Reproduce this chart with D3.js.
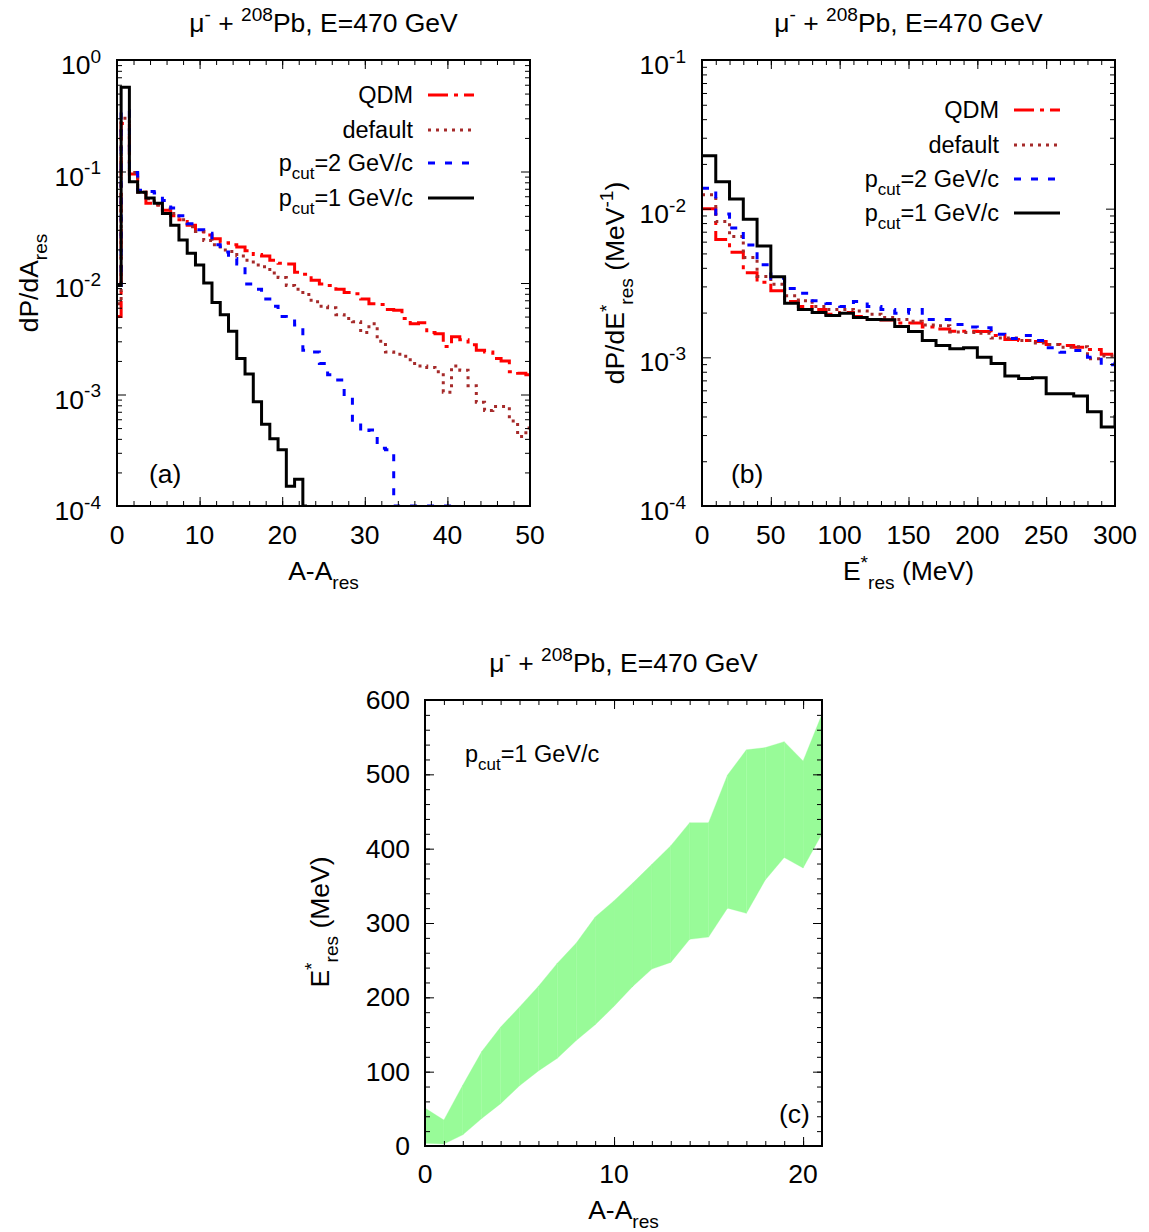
<!DOCTYPE html>
<html><head><meta charset="utf-8">
<script src="https://cdn.jsdelivr.net/npm/d3@7"></script>
<style>
body{margin:0;background:#fff}
text{font-family:"Liberation Sans",Arial,sans-serif;fill:#000}
</style>
</head><body>
<svg id="chart" width="1149" height="1232"></svg>
<script>
// ---------------- DATA ----------------
// Panel (a): dP/dA_res vs A-A_res (bins centred at integers)
const aQDM = [0.005,0.27,0.095,0.065,0.052,0.05,0.045,0.04,0.037,0.033,0.029,0.027,0.025,0.023,0.022,0.021,0.0195,0.018,0.0175,0.016,0.015,0.0148,0.0125,0.012,0.0106,0.0098,0.0095,0.0088,0.0082,0.008,0.0072,0.0065,0.0064,0.0058,0.0057,0.0048,0.0043,0.0044,0.0036,0.0035,0.0027,0.0033,0.0031,0.0028,0.0025,0.0024,0.0021,0.002,0.0016,0.00155,0.0015];
const aDefault = [0.0065,0.3,0.098,0.065,0.057,0.05,0.046,0.042,0.037,0.032,0.029,0.024,0.022,0.0198,0.0192,0.0175,0.016,0.0145,0.014,0.0123,0.0112,0.0095,0.0088,0.0079,0.0068,0.0062,0.006,0.0052,0.0048,0.0045,0.0036,0.0043,0.003,0.0024,0.0023,0.0022,0.0019,0.0018,0.00175,0.0016,0.00105,0.0018,0.00165,0.0012,0.00085,0.00072,0.00078,0.00078,0.00058,0.00042,0.0005];
const aPcut2 = [0.0095,0.35,0.098,0.068,0.066,0.064,0.055,0.047,0.04,0.034,0.03,0.028,0.022,0.019,0.0166,0.0148,0.0098,0.0088,0.0072,0.0062,0.005,0.0048,0.0042,0.0025,0.0024,0.0019,0.0015,0.00135,0.00095,0.00055,0.00046,0.00048,0.00033,0.00032,0.00005,0.00005,0.00005,0.00005,0.00005,0.00005,0.00005,0.00005];
const aPcut1 = [0.0095,0.57,0.081,0.065,0.058,0.052,0.042,0.033,0.0243,0.0185,0.0145,0.01,0.0067,0.0052,0.0037,0.0021,0.00153,0.00086,0.00054,0.0004,0.00032,0.00015,0.000174,0.00005];

// Panel (b): dP/dE*_res vs E*_res, 10 MeV bins (left edges 0..300)
const bEdges = d3.range(0, 301, 10);
const bQDM = [0.01,0.0062,0.0051,0.0037,0.0032,0.0028,0.00237,0.0022,0.0021,0.00195,0.002,0.00188,0.0018,0.00178,0.0017,0.0017,0.0016,0.00155,0.0015,0.0015,0.00149,0.0014,0.00132,0.0013,0.00128,0.00122,0.0012,0.00117,0.00113,0.00105,0.001];
const bDefault = [0.0124,0.0082,0.0065,0.0047,0.0035,0.0031,0.0026,0.0024,0.0022,0.0021,0.0021,0.00205,0.00195,0.00185,0.0018,0.00175,0.00165,0.00163,0.00148,0.00147,0.00145,0.00135,0.00135,0.0013,0.00125,0.00122,0.00117,0.00118,0.00098,0.00102,0.00103];
const bPcut2 = [0.0137,0.0092,0.0074,0.0057,0.0042,0.0034,0.0029,0.0027,0.0024,0.0023,0.0022,0.00237,0.0022,0.0021,0.00198,0.0021,0.0018,0.0018,0.00166,0.0016,0.00158,0.00143,0.00134,0.0014,0.0013,0.00116,0.00108,0.00111,0.001,0.00089,0.001];
const bPcut1 = [0.0227,0.0152,0.0116,0.0085,0.0056,0.00349,0.00231,0.0021,0.002,0.00191,0.00198,0.00185,0.0018,0.00179,0.00161,0.00149,0.0013,0.0012,0.00114,0.00116,0.001,0.00091,0.00075,0.00072,0.00073,0.00057,0.00057,0.00055,0.00043,0.00034,0.00041];

// Panel (c): E*_res band vs A-A_res (p_cut = 1 GeV/c)
const cX = d3.range(0, 22);
const cLow  = [3.6,2.7,15,37,57,81,101,118,142,163,188,215,238,247,278,281,320,313,358,388,374,420];
const cHigh = [51,35,82,127,160,187,215,246,273,308,330,354,379,404,435,435,499,533,536,544,518,581];

const seriesNames = ["QDM","default","pcut2","pcut1"];
const legendLabels = [["QDM"],["default"],["p",["cut","sub"],"=2 GeV/c"],["p",["cut","sub"],"=1 GeV/c"]];
const titleParts = ["\u03bc",["-","sup"]," + ",["208","sup"],"Pb, E=470 GeV"];

// ---------------- STYLES ----------------
const styles = {
  QDM:     {color:"#ff0000", dash:"20,6,4,6"},
  default: {color:"#a52a2a", dash:"3,5"},
  pcut2:   {color:"#0000ff", dash:"7,10"},
  pcut1:   {color:"#000000", dash:null}
};
const FS = 26.5;   // ticks, titles, axis labels
const FL = 23.5;   // legend texts
const svg = d3.select("#chart");

function rich(t, parts, fs) {
  let cur = 0;
  parts.forEach(p => {
    const [txt, type] = typeof p === "string" ? [p, null] : p;
    const target = type === "sup" ? -0.42*fs : type === "sub" ? 0.33*fs : 0;
    t.append("tspan").attr("dy", target - cur).attr("font-size", type ? fs*0.72 : fs).text(txt);
    cur = target;
  });
  return t;
}

function drawFrame(g, x, y, w, h, xMaj, xMin, yMaj, yMin) {
  const mk = (axis, tr, vals, size) => g.append("g").attr("transform", tr)
      .call(axis.tickValues(vals).tickSize(size).tickFormat(""))
      .call(s => s.select(".domain").remove())
      .call(s => s.selectAll("line").attr("stroke","#000").attr("stroke-width",1));
  mk(d3.axisBottom(x), `translate(0,${h})`, xMaj, -9);
  mk(d3.axisBottom(x), `translate(0,${h})`, xMin, -5);
  mk(d3.axisTop(x), `translate(0,0)`, xMaj, -9);
  mk(d3.axisTop(x), `translate(0,0)`, xMin, -5);
  mk(d3.axisLeft(y), `translate(0,0)`, yMaj, -9);
  mk(d3.axisLeft(y), `translate(0,0)`, yMin, -5);
  mk(d3.axisRight(y), `translate(${w},0)`, yMaj, -9);
  mk(d3.axisRight(y), `translate(${w},0)`, yMin, -5);
  g.append("rect").attr("width", w).attr("height", h).attr("fill","none")
    .attr("stroke","#000").attr("stroke-width",2);
}

function logMinors(lo, hi) {
  const out = [];
  for (let e = lo; e < hi; e++) for (let m = 2; m <= 9; m++) out.push(m * Math.pow(10, e));
  return out;
}

function panelLog(P, xDomain, xMaj, xMin, yExpLo, yExpHi, xs, seriesData, curve, legendPos, labelTxt, xLabel, yLabel, yLabelPos) {
  const g = svg.append("g").attr("transform", `translate(${P.l},${P.t})`);
  const x = d3.scaleLinear().domain(xDomain).range([0, P.w]);
  const y = d3.scaleLog().domain([Math.pow(10,yExpLo), Math.pow(10,yExpHi)]).range([P.h, 0]).clamp(true);
  const clipId = "clip" + P.l;
  g.append("clipPath").attr("id", clipId).append("rect").attr("width", P.w).attr("height", P.h);
  const lg = g.append("g").attr("clip-path", `url(#${clipId})`);
  seriesNames.forEach(name => {
    const vals = seriesData[name];
    const pts = vals.map((v, i) => [xs[i], v]);
    const line = d3.line().x(d => x(d[0])).y(d => y(d[1])).curve(curve);
    lg.append("path").attr("d", line(pts)).attr("fill","none")
      .attr("stroke", styles[name].color).attr("stroke-width", 3)
      .attr("stroke-dasharray", styles[name].dash);
  });
  const yMaj = d3.range(yExpLo, yExpHi + 1).map(e => Math.pow(10, e));
  drawFrame(g, x, y, P.w, P.h, xMaj, xMin, yMaj, logMinors(yExpLo, yExpHi));
  xMaj.forEach(v => g.append("text").attr("x", x(v)).attr("y", P.h + 38)
    .attr("text-anchor","middle").attr("font-size", FS).text(v));
  d3.range(yExpLo, yExpHi + 1).forEach(e => {
    const t = g.append("text").attr("x", -16).attr("y", y(Math.pow(10,e)) + 14)
      .attr("text-anchor","end").attr("font-size", FS);
    rich(t, ["10", [String(e), "sup"]], FS);
  });
  legendPos.rows.forEach((ry, i) => {
    const name = seriesNames[i];
    const t = g.append("text").attr("x", legendPos.tx - P.l).attr("y", ry - P.t + 8)
      .attr("text-anchor","end").attr("font-size", FL);
    rich(t, legendLabels[i], FL);
    g.append("line").attr("x1", legendPos.lx0 - P.l).attr("x2", legendPos.lx1 - P.l)
      .attr("y1", ry - P.t).attr("y2", ry - P.t)
      .attr("stroke", styles[name].color).attr("stroke-width", 3)
      .attr("stroke-dasharray", styles[name].dash);
  });
  g.append("text").attr("x", labelTxt[0] - P.l).attr("y", labelTxt[1] - P.t)
    .attr("font-size", FS).text(labelTxt[2]);
  rich(svg.append("text").attr("x", P.l + P.w/2).attr("y", 580).attr("text-anchor","middle").attr("font-size", FS), xLabel, FS);
  rich(svg.append("text").attr("transform", `translate(${yLabelPos[0]},${yLabelPos[1]}) rotate(-90)`)
    .attr("text-anchor","middle").attr("font-size", FS), yLabel, FS);
  rich(svg.append("text").attr("x", P.l + P.w/2).attr("y", 32).attr("text-anchor","middle").attr("font-size", FS), titleParts, FS);
}

// ---------- Panel (a) ----------
const A = {l:117, t:60, w:413, h:446};
panelLog(A, [0,50], d3.range(0,51,10), d3.range(0,51,2), -4, 0, d3.range(0,51),
  {QDM:aQDM, default:aDefault, pcut2:aPcut2, pcut1:aPcut1}, d3.curveStep,
  {rows:[95,130,163,198], tx:413, lx0:428, lx1:474},
  [149, 483, "(a)"], ["A-A",["res","sub"]], ["dP/dA",["res","sub"]], [38, 283]);

// ---------- Panel (b) ----------
const B = {l:702, t:60, w:413, h:446};
panelLog(B, [0,300], d3.range(0,301,50), d3.range(0,301,10), -4, -1, bEdges,
  {QDM:bQDM, default:bDefault, pcut2:bPcut2, pcut1:bPcut1}, d3.curveStepAfter,
  {rows:[110,145,179,213], tx:999, lx0:1014, lx1:1060},
  [731, 483, "(b)"], ["E",["*","sup"],["res","sub"]," (MeV)"],
  ["dP/dE",["*","sup"],["res","sub"]," (MeV",["-1","sup"],")"], [624, 283]);

// ---------- Panel (c) ----------
const C = {l:425, t:700, w:397, h:446};
{
  const g = svg.append("g").attr("transform", `translate(${C.l},${C.t})`);
  const x = d3.scaleLinear().domain([0,21]).range([0, C.w]);
  const y = d3.scaleLinear().domain([0,600]).range([C.h, 0]);
  const band = cX.map((v, i) => ({x:v, lo:cLow[i], hi:cHigh[i]}));
  const area = d3.area().x(d => x(d.x)).y0(d => y(d.lo)).y1(d => y(d.hi));
  for (let i = 0; i < band.length - 1; i++) {
    g.append("path").attr("d", area(band.slice(i, i + 2))).attr("fill", "#98fb98")
      .attr("stroke", "#98fb98").attr("stroke-width", 0.3);
  }
  drawFrame(g, x, y, C.w, C.h, d3.range(0,22,10), d3.range(0,22,1), d3.range(0,601,100), d3.range(0,601,20));
  [0,10,20].forEach(v => g.append("text").attr("x", x(v)).attr("y", C.h + 37)
    .attr("text-anchor","middle").attr("font-size", FS).text(v));
  d3.range(0,601,100).forEach(v => g.append("text").attr("x", -15).attr("y", y(v) + 9)
    .attr("text-anchor","end").attr("font-size", FS).text(v));
  rich(g.append("text").attr("x", 465 - C.l).attr("y", 762 - C.t).attr("font-size", FL), ["p",["cut","sub"],"=1 GeV/c"], FL);
  g.append("text").attr("x", 779 - C.l).attr("y", 1123 - C.t).attr("font-size", FS).text("(c)");
  rich(svg.append("text").attr("x", C.l + C.w/2).attr("y", 1219).attr("text-anchor","middle").attr("font-size", FS), ["A-A",["res","sub"]], FS);
  rich(svg.append("text").attr("transform", `translate(329,922) rotate(-90)`).attr("text-anchor","middle").attr("font-size", FS),
    ["E",["*","sup"],["res","sub"]," (MeV)"], FS);
  rich(svg.append("text").attr("x", C.l + C.w/2).attr("y", 672).attr("text-anchor","middle").attr("font-size", FS), titleParts, FS);
}
</script>
</body></html>
